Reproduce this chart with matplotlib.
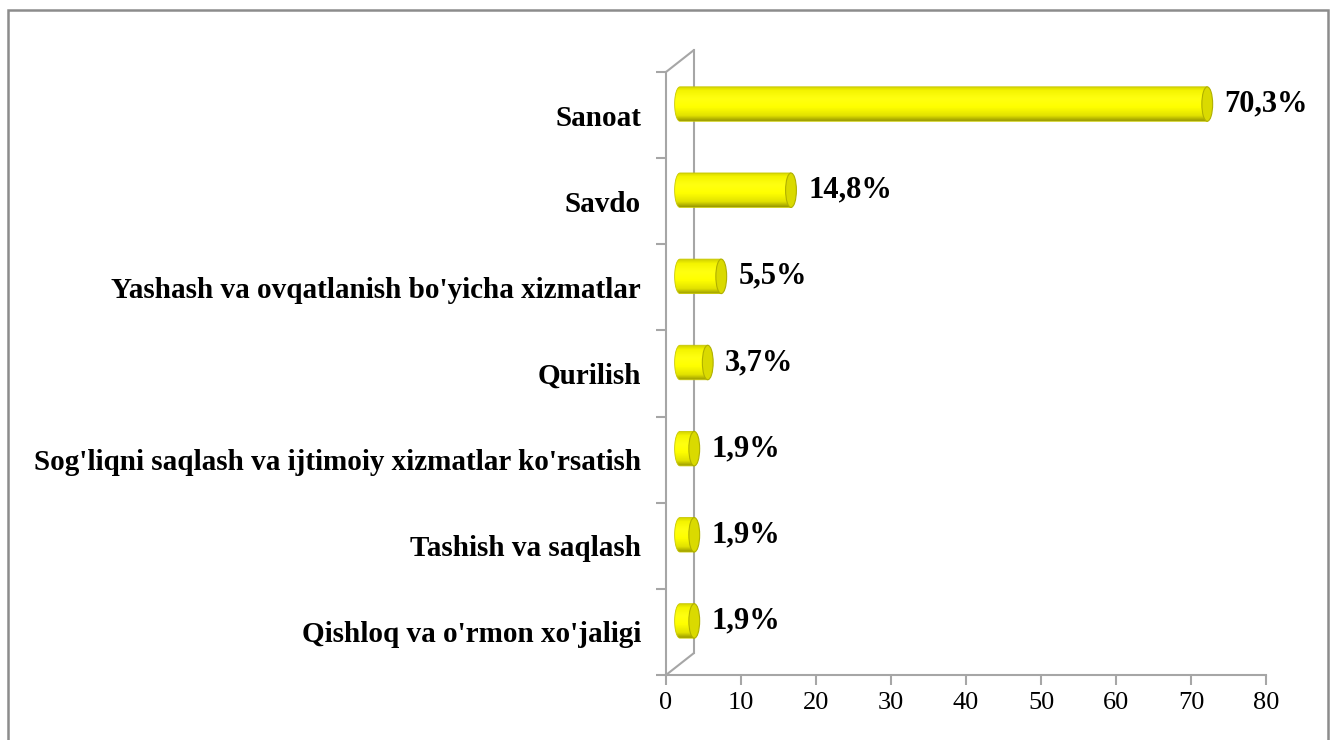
import numpy as np
import matplotlib
matplotlib.use("Agg")
import matplotlib.pyplot as plt
from matplotlib.patches import Ellipse, PathPatch, Rectangle, ConnectionPatch
from matplotlib.path import Path
from matplotlib.colors import LinearSegmentedColormap
from matplotlib.transforms import ScaledTranslation

plt.rcParams['font.family'] = ['Liberation Serif', 'DejaVu Serif']

# data
categories = ["Sanoat", "Savdo", "Yashash va ovqatlanish bo'yicha xizmatlar",
              "Qurilish", "Sog'liqni saqlash va ijtimoiy xizmatlar ko'rsatish",
              "Tashish va saqlash", "Qishloq va o'rmon xo'jaligi"]
values = [70.3, 14.8, 5.5, 3.7, 1.9, 1.9, 1.9]
value_labels = ["70,3%", "14,8%", "5,5%", "3,7%", "1,9%", "1,9%", "1,9%"]
xticks = [0, 10, 20, 30, 40, 50, 60, 70, 80]

axis_col = "#a6a6a6"
W, H, DPI = 1335, 740, 100
fig = plt.figure(figsize=(W / DPI, H / DPI), dpi=DPI)
ax = fig.add_axes([666 / W, 65 / H, 600 / W, 603 / H])

n = len(categories)
ypos = np.arange(n)[::-1]          # Sanoat on top
bar_h = 0.40
cap_a = 0.72                       # half width of the end ellipse (x units)

# 3D depth: bars sit half way into the wall
off_mid = ScaledTranslation(14 / DPI, 11 / DPI, fig.dpi_scale_trans)
off_back = ScaledTranslation(28 / DPI, 22 / DPI, fig.dpi_scale_trans)
tr_bar = ax.transData + off_mid

cmap = LinearSegmentedColormap.from_list("cyl", [
    (0.0, "#d0d000"), (0.12, "#f4f400"), (0.35, "#ffff10"),
    (0.6, "#ffff00"), (0.85, "#e2e200"), (1.0, "#9a9a00")])
grad = np.linspace(0, 1, 64).reshape(-1, 1)

for y, v, lab in zip(ypos, values, value_labels):
    top, bot = y + bar_h / 2, y - bar_h / 2
    t = np.linspace(np.pi / 2, 3 * np.pi / 2, 40)
    left = np.column_stack([cap_a * np.cos(t), y + bar_h / 2 * np.sin(t)])
    verts = np.vstack([[[v, top]], left, [[v, bot]], [[v, top]]])
    body = Path(verts)
    clip = PathPatch(body, transform=tr_bar, facecolor="none", edgecolor="none")
    ax.add_patch(clip)
    im = ax.imshow(grad, cmap=cmap, aspect="auto", origin="upper",
                   extent=(-cap_a, v, bot, top), transform=tr_bar, zorder=3)
    im.set_clip_path(clip)
    ax.add_patch(PathPatch(body, transform=tr_bar, facecolor="none",
                           edgecolor="#c8c800", lw=0.6, zorder=3.5))
    ax.add_patch(Ellipse((v, y), 2 * cap_a, bar_h, transform=tr_bar,
                         facecolor="#dada00", edgecolor="#b0b000", lw=0.8, zorder=4))
    ax.annotate(lab, xy=(v + cap_a, y), xycoords=tr_bar, xytext=(12, 0),
                textcoords="offset pixels", ha="left", va="center",
                fontsize=22, fontweight="bold", color="black")

ax.set_xlim(0, 80)
ax.set_ylim(-0.5, n - 0.5)
ax.set_xticks(xticks)
ax.set_xticklabels([str(x) for x in xticks], fontsize=19)
ax.set_yticks(ypos)
ax.set_yticklabels(categories, fontsize=21, fontweight="bold")
ax.set_yticks(np.arange(-0.5, n, 1.0), minor=True)
ax.tick_params(axis="y", which="major", length=0, pad=18)
ax.tick_params(axis="y", which="minor", length=7, width=1.5, color=axis_col, direction="out")
ax.tick_params(axis="x", length=7, width=1.5, color=axis_col, direction="out", pad=5)

for s in ["top", "right"]:
    ax.spines[s].set_visible(False)
for s in ["left", "bottom"]:
    ax.spines[s].set_color(axis_col)
    ax.spines[s].set_linewidth(1.5)
ax.patch.set_visible(False)

# back wall of the 3D plot
ax.plot([0, 0], [0, 1], transform=ax.transAxes + off_back, color=axis_col,
        lw=1.5, clip_on=False, zorder=1)
for yy in (0, 1):
    cp = ConnectionPatch(xyA=(0, yy), coordsA=ax.transAxes, xyB=(0, yy),
                         coordsB=ax.transAxes + off_back, color=axis_col, lw=1.5)
    fig.add_artist(cp)

# outer chart border
fig.add_artist(Rectangle((8 / W, -0.05), 1320 / W, (H - 10) / H + 0.05,
                         transform=fig.transFigure, fill=False,
                         edgecolor="#8c8c8c", lw=1.8))

fig.savefig("out.png", dpi=DPI)
